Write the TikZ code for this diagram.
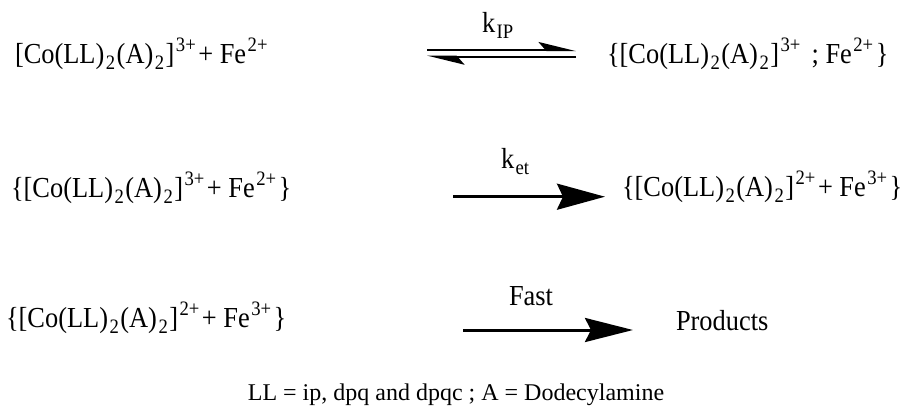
\documentclass[tikz,border=0pt]{standalone}
\usepackage{fontspec}
\setmainfont{Liberation Serif}
\newfontfamily\chemfont{Liberation Serif}[FakeStretch=0.91]
\usetikzlibrary{arrows.meta}
\newcommand\mysub[1]{\kern1.5pt\raisebox{-6pt}{\fontsize{20.5}{20.5}\selectfont #1}\kern1.5pt}
\newcommand\mysup[1]{\kern1.5pt\raisebox{11.5pt}{\fontsize{20.5}{20.5}\selectfont #1}\kern2.5pt}
\begin{document}
\begin{tikzpicture}[x=1pt,y=-1pt,
  chem/.style={anchor=base west,inner sep=0pt,outer sep=0pt,font=\chemfont\fontsize{29}{31}\selectfont},
  foot/.style={anchor=base,inner sep=0pt,outer sep=0pt,font=\fontsize{24}{26}\selectfont},
  rxn/.style={line width=3pt,-{Stealth[length=48pt,width=26pt,inset=6pt]}},
  eqm/.style={line width=2.2pt}]
\useasboundingbox (0,0) rectangle (907,405);
% row 1
\node[chem] (r1l) at (15,63) {[Co(LL)\mysub{2}(A)\mysub{2}]\mysup{3+} + Fe\mysup{2+}};
\node[chem] (r1r) at (607,63) {\{[Co(LL)\mysub{2}(A)\mysub{2}]\mysup{3+}\kern2pt{} ; Fe\mysup{2+} \}};
\node[chem] (k1) at (482,32) {k\mysub{IP}};
\coordinate (e1a) at (427,50);
\coordinate (e1b) at (576,50);
\coordinate (e2a) at (427,56.7);
\coordinate (e2b) at (576,56.7);
\draw[eqm,-{Stealth[harpoon,length=33pt,width=16pt,inset=7pt]}] (e1a) -- (e1b);
\draw[eqm,-{Stealth[harpoon,length=33pt,width=16pt,inset=7pt]}] (e2b) -- (e2a);
% row 2
\node[chem] (r2l) at (11,197) {\{[Co(LL)\mysub{2}(A)\mysub{2}]\mysup{3+} + Fe\mysup{2+}\}};
\node[chem] (r2r) at (622,196) {\{[Co(LL)\mysub{2}(A)\mysub{2}]\mysup{2+} + Fe\mysup{3+}\}};
\node[chem] (k2) at (501,168) {k\mysub{et}};
\coordinate (a2a) at (453,196.7);
\coordinate (a2b) at (605,196.7);
\draw[rxn] (a2a) -- (a2b);
% row 3
\node[chem] (r3l) at (6,327) {\{[Co(LL)\mysub{2}(A)\mysub{2}]\mysup{2+} + Fe\mysup{3+}\}};
\node[chem] (r3r) at (676,330) {Products};
\node[chem] (k3) at (509,305) {Fast};
\coordinate (a3a) at (463,330);
\coordinate (a3b) at (633,330);
\draw[rxn,-{Stealth[length=48pt,width=24pt,inset=6pt]}] (a3a) -- (a3b);
% footer
\node[foot] (note) at (456,400) {LL = ip, dpq and dpqc ; A = Dodecylamine};
\end{tikzpicture}
\end{document}
